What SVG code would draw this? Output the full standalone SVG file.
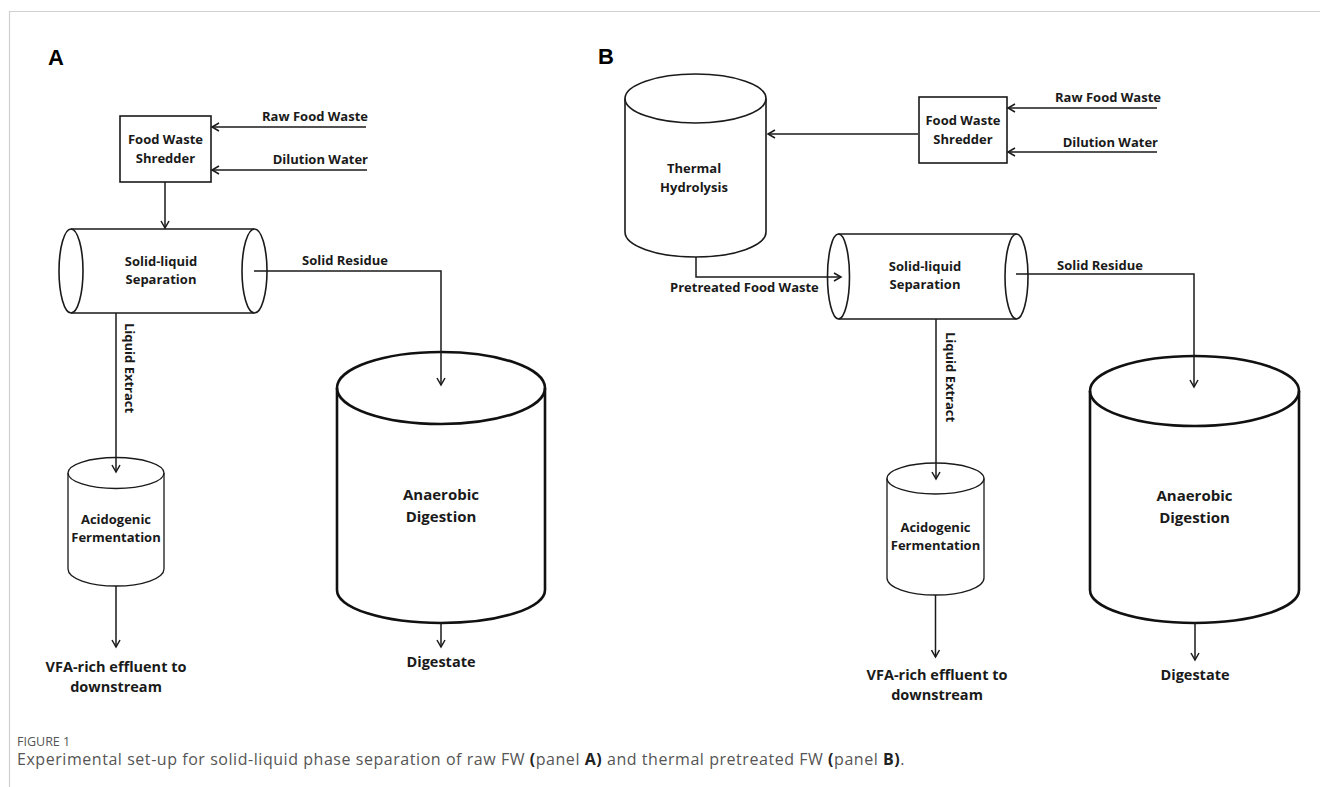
<svg xmlns="http://www.w3.org/2000/svg" width="1320" height="787" viewBox="0 0 1320 787">
<defs>
<style>
.t{font-family:"Open Sans","Liberation Sans",sans-serif;font-weight:700;font-size:13px;fill:#1a1a1a;text-anchor:middle}
.ts{text-anchor:start}
.te{text-anchor:end}
.big{font-size:15px}
.out{font-size:14.5px}
.panel{font-family:"Liberation Sans",Arial,sans-serif;font-weight:700;font-size:22px;fill:#000}
.ln{fill:none;stroke:#1a1a1a;stroke-width:1.5}
.shape{fill:none;stroke:#1a1a1a;stroke-width:1.6}
.thick{fill:none;stroke:#111;stroke-width:2.6}
.thin{fill:none;stroke:#1a1a1a;stroke-width:1.3}
.cap{font-family:"Open Sans","Liberation Sans",sans-serif;fill:#555}
</style>
<marker id="ah" markerWidth="10" markerHeight="10" refX="8" refY="5" orient="auto" markerUnits="userSpaceOnUse">
<path d="M1,1 L8,5 L1,9" fill="none" stroke="#1a1a1a" stroke-width="1.5"/>
</marker>
</defs>
<rect width="1320" height="787" fill="#fff"/>
<path d="M9.5,787 V11.5 H1320" fill="none" stroke="#d0d0d0" stroke-width="1.2"/>

<text class="panel" x="48" y="65">A</text>
<text class="panel" x="598" y="64">B</text>

<!-- Panel A -->
<g id="a-shredder">
<rect class="shape" x="120" y="116" width="91" height="66"/>
<text class="t" x="165.5" y="144">Food Waste</text>
<text class="t" x="165.5" y="163">Shredder</text>
</g>
<g id="a-separation">
<path class="shape" d="M71,229 H254 M71,313 H254"/>
<ellipse class="shape" cx="71" cy="271" rx="12" ry="42"/>
<ellipse class="shape" cx="254.5" cy="271" rx="12.5" ry="42"/>
<text class="t" x="161" y="266">Solid-liquid</text>
<text class="t" x="161" y="284">Separation</text>
</g>
<g id="a-acidogenic">
<ellipse class="thin" cx="116" cy="473" rx="48" ry="15.5"/>
<path class="thin" d="M68,473 V569 A48,17 0 0 0 164,569 V473"/>
<text class="t" x="116" y="524">Acidogenic</text>
<text class="t" x="116" y="542">Fermentation</text>
</g>
<g id="a-anaerobic">
<ellipse class="thick" cx="441" cy="388" rx="104" ry="36"/>
<path class="thick" d="M337,388 V590 A104,33 0 0 0 545,590 V388"/>
<text class="t big" x="441" y="500">Anaerobic</text>
<text class="t big" x="441" y="522">Digestion</text>
</g>
<g id="a-labels">
<text class="t te" x="368" y="121">Raw Food Waste</text>
<text class="t te" x="368" y="164">Dilution Water</text>
<text class="t ts" x="302" y="265">Solid Residue</text>
<text class="t ts" transform="translate(125,323) rotate(90)">Liquid Extract</text>
<text class="t out" x="116" y="672">VFA-rich effluent to</text>
<text class="t out" x="116" y="692">downstream</text>
<text class="t out" x="441" y="667">Digestate</text>
</g>

<!-- Panel B -->
<g id="b-thermal">
<ellipse class="shape" cx="695.5" cy="98.5" rx="70.5" ry="24.5"/>
<path class="shape" d="M625,98.5 V232 A70.5,25 0 0 0 766,232 V98.5"/>
<text class="t" x="694" y="173">Thermal</text>
<text class="t" x="694" y="192">Hydrolysis</text>
</g>
<g id="b-shredder">
<rect class="shape" x="919" y="97" width="88" height="66"/>
<text class="t" x="963" y="125">Food Waste</text>
<text class="t" x="963" y="144">Shredder</text>
</g>
<g id="b-separation">
<path class="shape" d="M838.5,234 H1016.5 M838.5,319 H1016.5"/>
<ellipse class="shape" cx="838.5" cy="276.5" rx="11" ry="42.5"/>
<ellipse class="shape" cx="1016.5" cy="276.5" rx="11.5" ry="42.5"/>
<text class="t" x="925" y="271">Solid-liquid</text>
<text class="t" x="925" y="289">Separation</text>
</g>
<g id="b-acidogenic">
<ellipse class="thin" cx="935.5" cy="478.5" rx="48.5" ry="15.5"/>
<path class="thin" d="M887,478.5 V578 A48.5,17 0 0 0 984,578 V478.5"/>
<text class="t" x="935.5" y="532">Acidogenic</text>
<text class="t" x="935.5" y="550">Fermentation</text>
</g>
<g id="b-anaerobic">
<ellipse class="thick" cx="1194.5" cy="391" rx="104.5" ry="35"/>
<path class="thick" d="M1090,391 V590 A104.5,33 0 0 0 1299,590 V391"/>
<text class="t big" x="1194.5" y="501">Anaerobic</text>
<text class="t big" x="1194.5" y="523">Digestion</text>
</g>
<g id="b-labels">
<text class="t te" x="1161" y="102">Raw Food Waste</text>
<text class="t te" x="1158" y="147">Dilution Water</text>
<text class="t ts" x="670" y="292">Pretreated Food Waste</text>
<text class="t ts" x="1057" y="270">Solid Residue</text>
<text class="t ts" transform="translate(946,332) rotate(90)">Liquid Extract</text>
<text class="t out" x="937" y="680">VFA-rich effluent to</text>
<text class="t out" x="937" y="700">downstream</text>
<text class="t out" x="1195" y="680">Digestate</text>
</g>

<g id="connectors">
<path class="ln" d="M366,127 H212" marker-end="url(#ah)"/>
<path class="ln" d="M367,170 H212" marker-end="url(#ah)"/>
<path class="ln" d="M165,182 V228" marker-end="url(#ah)"/>
<path class="ln" d="M254,271 H441 V385" marker-end="url(#ah)"/>
<path class="ln" d="M116,313 V472" marker-end="url(#ah)"/>
<path class="ln" d="M116,586 V647" marker-end="url(#ah)"/>
<path class="ln" d="M441,623 V647" marker-end="url(#ah)"/>

<path class="ln" d="M1157,108 H1008" marker-end="url(#ah)"/>
<path class="ln" d="M1157,152 H1008" marker-end="url(#ah)"/>
<path class="ln" d="M918,134 H768" marker-end="url(#ah)"/>
<path class="ln" d="M696,257 V277 H841" marker-end="url(#ah)"/>
<path class="ln" d="M1016,274 H1194 V387" marker-end="url(#ah)"/>
<path class="ln" d="M936,319 V479" marker-end="url(#ah)"/>
<path class="ln" d="M935.5,595 V657" marker-end="url(#ah)"/>
<path class="ln" d="M1195,623 V660" marker-end="url(#ah)"/>
</g>

<g id="caption">
<text class="cap" x="17" y="746" font-size="12.5" font-weight="400" fill="#666">FIGURE 1</text>
<text class="cap" x="17" y="765" font-size="16" letter-spacing="0.55">Experimental set-up for solid-liquid phase separation of raw FW <tspan font-weight="700" fill="#222">(</tspan>panel <tspan font-weight="700" fill="#222">A)</tspan> and thermal pretreated FW <tspan font-weight="700" fill="#222">(</tspan>panel <tspan font-weight="700" fill="#222">B)</tspan>.</text>
</g>
</svg>
